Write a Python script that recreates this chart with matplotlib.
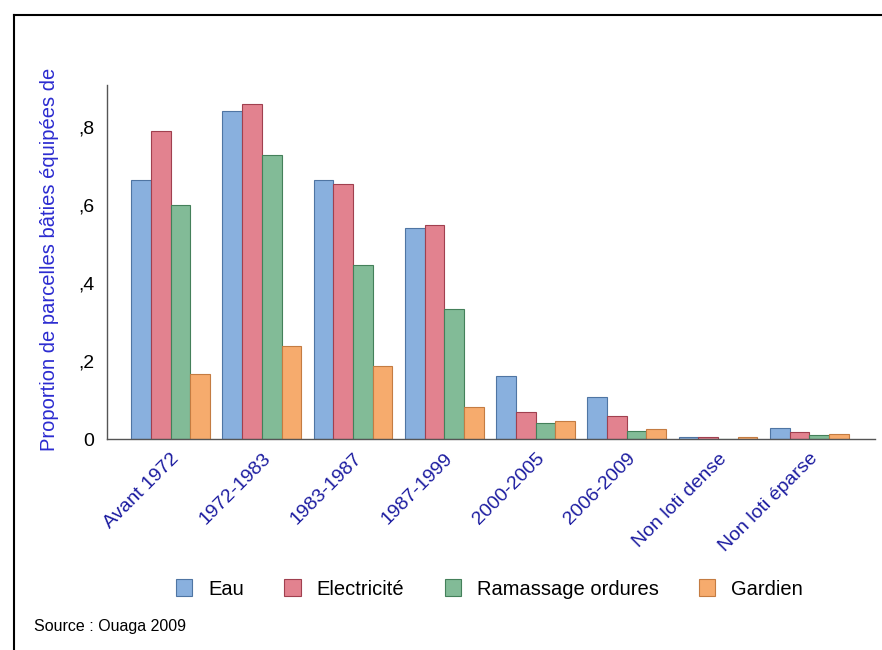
import matplotlib.pyplot as plt
import numpy as np

plt.rcParams['font.family'] = ['Liberation Sans', 'DejaVu Sans']

# categories and values
periodes = ['Avant 1972', '1972-1983', '1983-1987', '1987-1999',
            '2000-2005', '2006-2009', 'Non loti dense', 'Non loti éparse']
eau = [0.664, 0.839, 0.663, 0.540, 0.162, 0.107, 0.006, 0.027]
electricite = [0.788, 0.858, 0.654, 0.549, 0.069, 0.058, 0.004, 0.017]
ramassage = [0.600, 0.727, 0.446, 0.333, 0.042, 0.020, 0.001, 0.011]
gardien = [0.167, 0.239, 0.188, 0.081, 0.045, 0.025, 0.006, 0.014]

series = ['Eau', 'Electricité', 'Ramassage ordures', 'Gardien']
faces = ['#89b0de', '#e2828f', '#82bb97', '#f6ab6d']
edges = ['#4f75a3', '#a0404f', '#44805a', '#c47c42']

fig = plt.figure(figsize=(8.82, 6.5), dpi=100)
ax = fig.add_axes([0.121, 0.3246, 0.871, 0.545])

x = np.arange(len(periodes))
w = 0.216
for i, vals in enumerate([eau, electricite, ramassage, gardien]):
	ax.bar(x + (i - 1.5) * w, vals, w, color=faces[i], edgecolor=edges[i],
	       linewidth=0.8, label=series[i])

ax.set_xlim(-0.7, 7.72)
ax.set_ylim(0, 0.907)
ax.set_yticks([0, 0.2, 0.4, 0.6, 0.8])
ax.set_yticklabels(['0', ',2', ',4', ',6', ',8'], fontsize=14)
ax.tick_params(axis='y', length=0, pad=9)
ax.tick_params(axis='x', length=0, pad=8)
ax.set_xticks(x)
ax.set_xticklabels(periodes, rotation=45, ha='right', rotation_mode='anchor',
                   fontsize=14, color='#1c1ca0')
for s in ['top', 'right']:
	ax.spines[s].set_visible(False)
for s in ['left', 'bottom']:
	ax.spines[s].set_color('#555555')
	ax.spines[s].set_linewidth(1.0)

ax.set_ylabel('Proportion de parcelles bâties équipées de', fontsize=14.5,
              color='#2b2bd0')
ax.yaxis.set_label_coords(-0.062, 0.508)

fig.legend(loc='center', bbox_to_anchor=(0.555, 0.094), ncol=4, frameon=False,
           fontsize=14.5, handlelength=0.8, handleheight=0.9, columnspacing=2.0,
           handletextpad=0.8)

fig.text(0.038, 0.03, 'Source : Ouaga 2009', fontsize=11.5)

# outer frame (top and left edges)
fig.add_artist(plt.Line2D([14 / 882, 1], [1 - 15 / 650, 1 - 15 / 650], color='black', lw=1.5))
fig.add_artist(plt.Line2D([14 / 882, 14 / 882], [0, 1 - 15 / 650], color='black', lw=1.5))

fig.savefig('out.png', dpi=100)
